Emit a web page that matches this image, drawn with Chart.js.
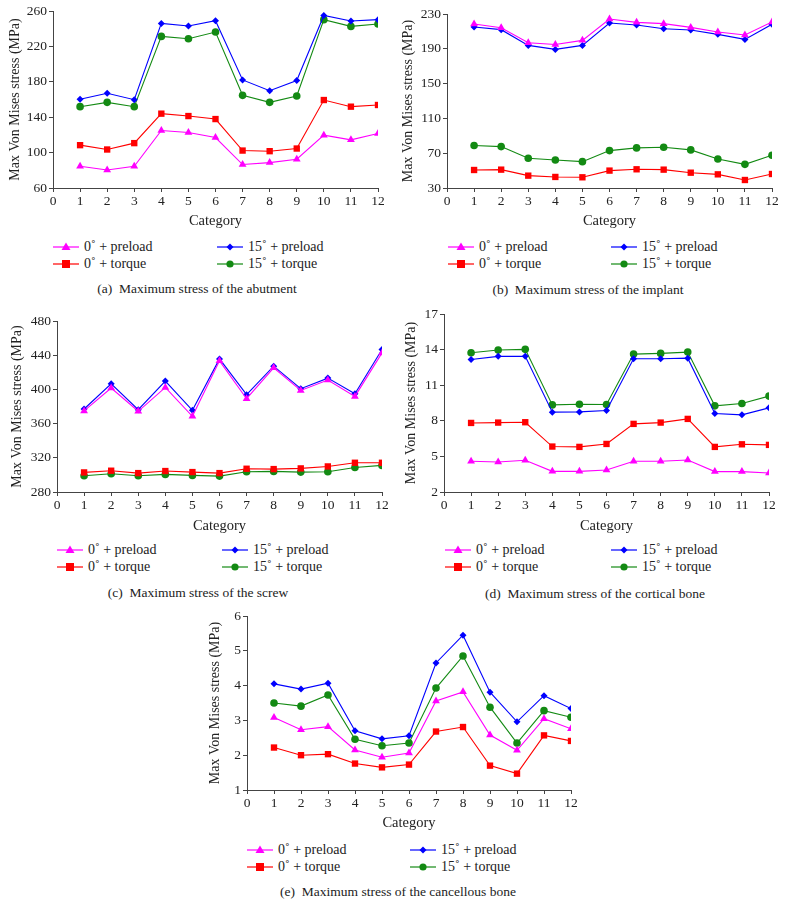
<!DOCTYPE html>
<html><head><meta charset="utf-8">
<script src="https://cdn.jsdelivr.net/npm/chart.js@4.4.1/dist/chart.umd.min.js"></script>
<style>
html,body{margin:0;padding:0;background:#fff;}
body{width:786px;height:907px;position:relative;overflow:hidden;font-family:"Liberation Serif","Times New Roman",serif;color:#222;}
canvas{position:absolute;}
.lg{position:absolute;font-size:14px;white-space:nowrap;display:flex;align-items:center;height:16px;line-height:16px;}
.lg svg{margin-right:5px;}
.cap{position:absolute;font-size:13.5px;white-space:pre;transform:translate(-50%,-50%);}
</style>
</head><body>
<script>
// ---------- data ----------
const categories = [1,2,3,4,5,6,7,8,9,10,11,12];
const seriesNames = ['0˚ + preload','0˚ + torque','15˚ + preload','15˚ + torque'];

// (a) abutment
const abutment_0_preload  = [84.6,80.4,84.6,125,122.8,117,86.5,88.7,92.5,119.7,114.4,121.6];
const abutment_0_torque   = [108.4,103.5,110.7,144,141.3,137.9,102.3,101.6,104.6,159.4,151.9,153.8];
const abutment_15_preload = [160.2,167,159.8,246,243,249,182.1,170,181.4,255,248.7,250.2];
const abutment_15_torque  = [151.9,156.8,151.9,231.3,228.6,236.2,164.7,156.8,164,250.2,242.6,245.3];
// (b) implant
const implant_0_preload  = [218.5,214.3,197,195,199.7,224.2,220.4,218.9,214.6,209.3,205.8,220.8];
const implant_0_torque   = [50.7,51.1,44.2,42.7,42.3,50,51.5,51.1,47.6,45.7,39.2,46.1];
const implant_15_preload = [215,212,193.9,189.3,193.9,219.6,217.3,213.1,211.6,206.6,200.8,218.1];
const implant_15_torque  = [78.8,77.6,64.2,62.2,60.3,73,76.1,76.8,73.8,63.4,57.2,67.6];
// (c) screw
const screw_0_preload  = [374.8,401.6,374.4,402.3,368.5,433.4,389.1,425.2,398.8,410.9,391.8,442.7];
const screw_0_torque   = [302.9,304.9,302.1,304.5,303.3,302.1,307.2,306.8,307.6,309.9,314.2,314.2];
const screw_15_preload = [377.1,406.6,376.3,409.7,375.5,435.7,393.8,427.2,400.8,413.2,395,446.6];
const screw_15_torque  = [299,301.4,299,300.6,299.4,298.6,303.7,304.1,303.3,303.7,308.7,311.1];
// (d) cortical bone
const cortical_0_preload  = [4.59,4.53,4.67,3.74,3.74,3.86,4.59,4.59,4.70,3.72,3.72,3.60];
const cortical_0_torque   = [7.82,7.85,7.88,5.83,5.80,6.05,7.74,7.85,8.16,5.80,6.02,5.97];
const cortical_15_preload = [13.17,13.43,13.43,8.73,8.75,8.87,13.23,13.23,13.28,8.61,8.50,9.09];
const cortical_15_torque  = [13.74,13.96,14.02,9.34,9.40,9.37,13.62,13.68,13.79,9.26,9.46,10.08];
// (e) cancellous bone
const cancellous_0_preload  = [3.08,2.73,2.82,2.15,1.94,2.06,3.56,3.82,2.58,2.14,3.05,2.76];
const cancellous_0_torque   = [2.22,2.00,2.03,1.76,1.65,1.73,2.68,2.81,1.70,1.47,2.57,2.41];
const cancellous_15_preload = [4.05,3.90,4.07,2.70,2.47,2.56,4.65,5.45,3.81,2.96,3.71,3.34];
const cancellous_15_torque  = [3.50,3.41,3.73,2.46,2.27,2.35,3.93,4.85,3.38,2.35,3.28,3.09];

// axis ticks
const xTickMin = 0, xTickMax = 12, xTickStep = 1;
const yAxisA = [60,260,40];
const yAxisB = [30,230,40];
const yAxisC = [280,480,40];
const yAxisD = [2,17,3];
const yAxisE = [1,6,1];

const captions = ['(a)  Maximum stress of the abutment','(b)  Maximum stress of the implant',
  '(c)  Maximum stress of the screw','(d)  Maximum stress of the cortical bone',
  '(e)  Maximum stress of the cancellous bone'];
const yTitle = 'Max Von Mises stress (MPa)';
const xTitle = 'Category';

// ---------- styles ----------
const styles = [
  {color:'#ff00ff', point:'triangle', r:4.5},
  {color:'#ff0000', point:'rect', r:4.5},
  {color:'#0000ff', point:'rectRot', r:3.5},
  {color:'#138a13', point:'circle', r:3.8}
];
const FONT = '"Liberation Serif","Times New Roman",serif';

// layout per panel
const panels = [
  {data:[abutment_0_preload,abutment_0_torque,abutment_15_preload,abutment_15_torque], y:yAxisA, cap:captions[0],
   cv:{left:0,top:0,w:393,h:230}, L:53,T:11,R:378,B:188,padL:7,
   leg:{c1:53,c2:217,r1:247,r2:264}, capPos:{x:197,y:289}},
  {data:[implant_0_preload,implant_0_torque,implant_15_preload,implant_15_torque], y:yAxisB, cap:captions[1],
   cv:{left:393,top:0,w:393,h:230}, L:54,T:14,R:379,B:188,padL:7,
   leg:{c1:448,c2:611,r1:247,r2:264}, capPos:{x:588,y:290}},
  {data:[screw_0_preload,screw_0_torque,screw_15_preload,screw_15_torque], y:yAxisC, cap:captions[2],
   cv:{left:0,top:300,w:393,h:235}, L:57,T:21,R:382,B:192,padL:9,
   leg:{c1:57,c2:222,r1:550,r2:567}, capPos:{x:198,y:593}},
  {data:[cortical_0_preload,cortical_0_torque,cortical_15_preload,cortical_15_torque], y:yAxisD, cap:captions[3],
   cv:{left:393,top:300,w:393,h:235}, L:51,T:14,R:376,B:192,padL:10,
   leg:{c1:445,c2:611,r1:550,r2:567}, capPos:{x:595,y:594}},
  {data:[cancellous_0_preload,cancellous_0_torque,cancellous_15_preload,cancellous_15_torque], y:yAxisE, cap:captions[4],
   cv:{left:200,top:600,w:393,h:232}, L:47,T:16,R:371,B:190,padL:7,
   leg:{c1:247,c2:410,r1:850,r2:867}, capPos:{x:398,y:892}}
];

function markerSVG(s){
  const cx=13, cy=8, c=s.color;
  let m='';
  if(s.point==='triangle') m=`<polygon points="${cx},${cy-4.5} ${cx-4.5},${cy+3} ${cx+4.5},${cy+3}" fill="${c}"/>`;
  else if(s.point==='rect') m=`<rect x="${cx-4}" y="${cy-4}" width="8" height="8" fill="${c}"/>`;
  else if(s.point==='rectRot') m=`<polygon points="${cx},${cy-3.5} ${cx+3.5},${cy} ${cx},${cy+3.5} ${cx-3.5},${cy}" fill="${c}"/>`;
  else m=`<circle cx="${cx}" cy="${cy}" r="3.6" fill="${c}"/>`;
  return `<svg width="26" height="16"><line x1="0" y1="${cy}" x2="26" y2="${cy}" stroke="${c}" stroke-width="1.2"/>${m}</svg>`;
}

panels.forEach((p)=>{
  const cv=document.createElement('canvas');
  cv.style.left=p.cv.left+'px'; cv.style.top=p.cv.top+'px';
  cv.style.width=p.cv.w+'px'; cv.style.height=p.cv.h+'px';
  cv.width=p.cv.w; cv.height=p.cv.h;
  document.body.appendChild(cv);
  const datasets=p.data.map((arr,i)=>({
    label:seriesNames[i],
    data:categories.map((c,k)=>({x:c,y:arr[k]})),
    borderColor:styles[i].color, backgroundColor:styles[i].color,
    borderWidth:1.1, pointStyle:styles[i].point, pointRadius:styles[i].r,
    pointBorderWidth:0, pointBackgroundColor:styles[i].color, tension:0, fill:false
  }));
  new Chart(cv,{
    type:'line',
    data:{datasets},
    options:{
      responsive:false, animation:false, devicePixelRatio:1,
      layout:{padding:{left:p.padL,top:p.T,right:p.cv.w-p.R,bottom:0}},
      plugins:{legend:{display:false},tooltip:{enabled:false}},
      scales:{
        x:{type:'linear',min:xTickMin,max:xTickMax,
           ticks:{stepSize:xTickStep,color:'#222',font:{family:FONT,size:13.5},padding:1,maxRotation:0},
           grid:{drawOnChartArea:false,drawTicks:true,tickLength:4,color:'#444',lineWidth:1},
           border:{color:'#444',width:1},
           title:{display:true,text:xTitle,color:'#222',font:{family:FONT,size:14.5},padding:0},
           afterFit:(s)=>{s.height=p.cv.h-p.B;}
        },
        y:{type:'linear',min:p.y[0],max:p.y[1],
           ticks:{stepSize:p.y[2],color:'#222',font:{family:FONT,size:13.5},padding:2},
           grid:{drawOnChartArea:false,drawTicks:true,tickLength:4,color:'#444',lineWidth:1},
           border:{color:'#444',width:1},
           title:{display:true,text:yTitle,color:'#222',font:{family:FONT,size:14},padding:0},
           afterFit:(s)=>{s.width=p.L-p.padL;}
        }
      }
    }
  });
  // legend
  const pos=[[p.leg.c1,p.leg.r1],[p.leg.c1,p.leg.r2],[p.leg.c2,p.leg.r1],[p.leg.c2,p.leg.r2]];
  pos.forEach((q,i)=>{
    const d=document.createElement('div');
    d.className='lg';
    d.style.left=q[0]+'px'; d.style.top=(q[1]-8)+'px';
    d.innerHTML=markerSVG(styles[i])+'<span>'+seriesNames[i]+'</span>';
    document.body.appendChild(d);
  });
  const c=document.createElement('div');
  c.className='cap'; c.textContent=p.cap;
  c.style.left=p.capPos.x+'px'; c.style.top=p.capPos.y+'px';
  document.body.appendChild(c);
});
</script>
</body></html>
